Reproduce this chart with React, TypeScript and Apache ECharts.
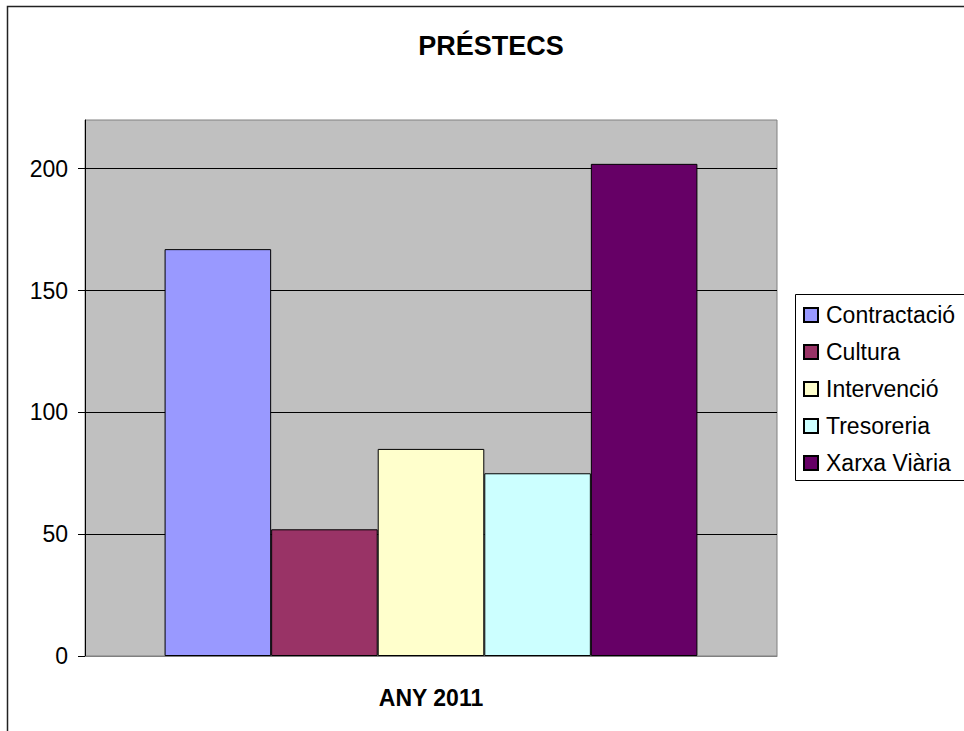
import React, { useEffect, useRef } from "react";
import * as echarts from "echarts";

const categories = ["ANY 2011"];
const seriesNames = ["Contractació", "Cultura", "Intervenció", "Tresoreria", "Xarxa Viària"];
const seriesValues = [167, 52, 85, 75, 202];
const seriesColors = ["#9999FF", "#993366", "#FFFFCC", "#CCFFFF", "#660066"];
const yTicks = [0, 50, 100, 150, 200];
const titleText = "PRÉSTECS";

const FONT = "'Liberation Sans', Arial, sans-serif";

export default function App() {
  const ref = useRef<HTMLDivElement>(null);
  useEffect(() => {
    if (!ref.current) return;
    const chart = echarts.init(ref.current, null, { renderer: "svg" });
    const option: any = {
      animation: false,
      backgroundColor: "#ffffff",
      textStyle: { fontFamily: FONT },
      graphic: [
        {
          type: "rect",
          z: 0,
          shape: { x: 7.5, y: 6.5, width: 1100, height: 900 },
          style: { fill: "none", stroke: "#222", lineWidth: 1.5 },
        },
        {
          type: "rect",
          z: 1,
          shape: { x: 795.5, y: 294.5, width: 300, height: 186 },
          style: { fill: "#ffffff", stroke: "#000", lineWidth: 1 },
        },
        {
          type: "text",
          z: 5,
          x: 491,
          y: 46,
          style: {
            text: titleText,
            fill: "#000",
            font: `bold 27px ${FONT}`,
            textAlign: "center",
            textVerticalAlign: "middle",
          },
        },
      ],
      legend: {
        orient: "vertical",
        left: 803,
        top: 303,
        itemWidth: 14,
        itemHeight: 14,
        itemGap: 13,
        icon: "rect",
        padding: 0,
        textStyle: { fontSize: 23, fontFamily: FONT, color: "#000", lineHeight: 24, padding: [0, 0, 0, 3] },
        data: seriesNames,
      },
      grid: {
        left: 85,
        top: 120,
        right: 187,
        bottom: 75,
        show: true,
        backgroundColor: "#C0C0C0",
        borderColor: "#808080",
        borderWidth: 1,
        containLabel: false,
      },
      xAxis: {
        type: "category",
        data: categories,
        axisLine: { show: true, lineStyle: { color: "#808080", width: 1 } },
        axisTick: { show: false },
        axisLabel: {
          show: true,
          margin: 30,
          fontSize: 23,
          fontWeight: "bold",
          fontFamily: FONT,
          color: "#000",
        },
        splitLine: { show: false },
      },
      yAxis: {
        type: "value",
        min: 0,
        max: 220,
        interval: 50,
        axisLine: { show: true, lineStyle: { color: "#000", width: 1 } },
        axisTick: { show: true, length: 7, inside: false, lineStyle: { color: "#000" }, customValues: yTicks },
        axisLabel: {
          show: true,
          margin: 17,
          fontSize: 23,
          fontFamily: FONT,
          color: "#000",
          customValues: yTicks,
        },
        splitLine: { show: true, showMinLine: false, lineStyle: { color: "#000", width: 1 } },
      },
      series: seriesNames.map((name, i) => ({
        name,
        type: "bar",
        data: [seriesValues[i]],
        barGap: "0%",
        barCategoryGap: "23%",
        itemStyle: { color: seriesColors[i], borderColor: "#000", borderWidth: 1 },
      })),
    };
    chart.setOption(option);
    return () => chart.dispose();
  }, []);
  return (
    <div
      ref={ref}
      style={{ position: "absolute", left: 0, top: 0, width: 964, height: 731 }}
    />
  );
}
